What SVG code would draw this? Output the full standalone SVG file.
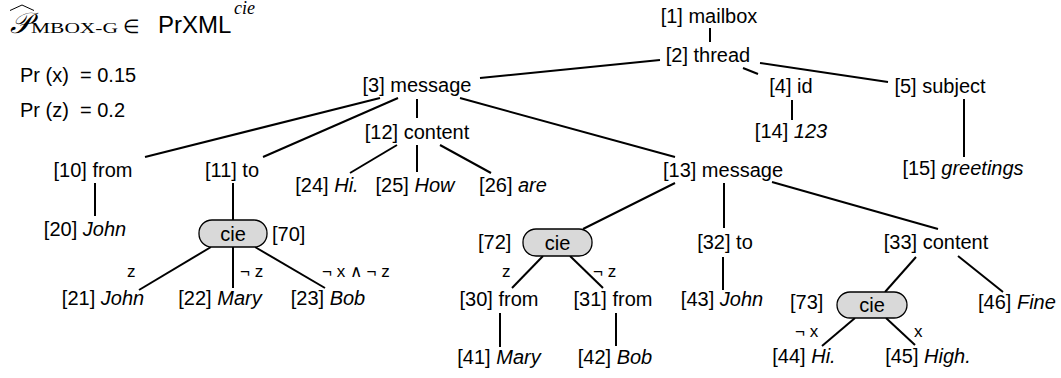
<svg xmlns="http://www.w3.org/2000/svg" width="1061" height="378" viewBox="0 0 1061 378">
<style>
.n{font-family:"Liberation Sans",Arial,sans-serif;font-size:20px;fill:#000;text-anchor:middle}
.s{text-anchor:start}
.i{font-style:italic}
.e{font-family:"Liberation Sans",Arial,sans-serif;font-size:17px;fill:#000}
.c{fill:#d9d9d9;stroke:#000;stroke-width:1.3}
#edges line{stroke:#000;stroke-width:2;stroke-linecap:butt}
</style>
<rect width="1061" height="378" fill="#fff"/>
<g id="title">
<path d="M10,10.5 L22,5 L34,10.5" fill="none" stroke="#000" stroke-width="1"/>
<text x="10" y="33" font-family="DejaVu Serif,'Liberation Serif',serif" font-style="italic" font-size="29">𝒫</text>
<text x="31" y="33" font-family="'Liberation Serif',serif" font-size="14" textLength="87" lengthAdjust="spacingAndGlyphs">MBOX-G</text>
<text x="123" y="33" font-family="'DejaVu Sans',sans-serif" font-size="19">∈</text>
<text x="158" y="33" font-family="'Liberation Sans',Arial,sans-serif" font-size="24">PrXML</text>
<text x="234" y="14" font-family="'Liberation Serif',serif" font-style="italic" font-size="18">cie</text>
</g>
<g id="probs">
<text class="n s" x="20" y="82">Pr (x)</text><text class="n s" x="80" y="82">= 0.15</text>
<text class="n s" x="20" y="117">Pr (z)</text><text class="n s" x="80" y="117">= 0.2</text>
</g>
<g id="edges">
<line x1="710" y1="28" x2="710" y2="42"/>
<line x1="480" y1="78" x2="660" y2="60"/>
<line x1="743" y1="68" x2="758" y2="74"/>
<line x1="760" y1="63" x2="888" y2="82"/>
<line x1="792" y1="100" x2="792" y2="120"/>
<line x1="964" y1="99" x2="964" y2="157"/>
<line x1="145" y1="157" x2="380" y2="98"/>
<line x1="263" y1="157" x2="398" y2="98"/>
<line x1="417" y1="99" x2="417" y2="118"/>
<line x1="460" y1="98" x2="675" y2="157"/>
<line x1="397" y1="145" x2="350" y2="173"/>
<line x1="417" y1="145" x2="417" y2="172"/>
<line x1="440" y1="145" x2="491" y2="173"/>
<line x1="95" y1="183" x2="95" y2="216"/>
<line x1="233" y1="183" x2="233" y2="220"/>
<line x1="211" y1="247" x2="139" y2="290"/>
<line x1="233" y1="247" x2="233" y2="288"/>
<line x1="255" y1="247" x2="325" y2="288"/>
<line x1="675" y1="183" x2="583" y2="229"/>
<line x1="724" y1="183" x2="724" y2="228"/>
<line x1="772" y1="182" x2="938" y2="229"/>
<line x1="543" y1="256" x2="512" y2="288"/>
<line x1="570" y1="256" x2="603" y2="288"/>
<line x1="500" y1="313" x2="500" y2="347"/>
<line x1="616" y1="313" x2="616" y2="346"/>
<line x1="723" y1="257" x2="723" y2="290"/>
<line x1="916" y1="257" x2="885" y2="292"/>
<line x1="958" y1="256" x2="1003" y2="292"/>
<line x1="855" y1="318" x2="822" y2="346"/>
<line x1="886" y1="318" x2="915" y2="345"/>
</g>
<g id="n1"><text class="n" x="709" y="23">[1] mailbox</text></g>
<g id="n2"><text class="n" x="708" y="62">[2] thread</text></g>
<g id="n3"><text class="n" x="417" y="92">[3] message</text></g>
<g id="n4"><text class="n" x="791" y="93">[4] id</text></g>
<g id="n5"><text class="n" x="940" y="93">[5] subject</text></g>
<g id="n14"><text class="n" x="791" y="138">[14] <tspan class="i">123</tspan></text></g>
<g id="n12"><text class="n" x="417" y="139">[12] content</text></g>
<g id="n10"><text class="n" x="93" y="176.5">[10] from</text></g>
<g id="n11"><text class="n" x="232" y="176.5">[11] to</text></g>
<g id="n13"><text class="n" x="723" y="177">[13] message</text></g>
<g id="n15"><text class="n" x="963" y="175">[15] <tspan class="i">greetings</tspan></text></g>
<g id="n24"><text class="n" x="327" y="191.5">[24] <tspan class="i">Hi.</tspan></text></g>
<g id="n25"><text class="n" x="415" y="191.5">[25] <tspan class="i">How</tspan></text></g>
<g id="n26"><text class="n" x="513" y="191.5">[26] <tspan class="i">are</tspan></text></g>
<g id="n20"><text class="n" x="85" y="236">[20] <tspan class="i">John</tspan></text></g>
<g id="n70"><rect class="c" x="199" y="220" width="68" height="27" rx="13"/><text class="n" x="233" y="241">cie</text><text class="n s" x="272" y="241">[70]</text></g>
<g id="n21"><text class="n" x="103" y="305">[21] <tspan class="i">John</tspan></text></g>
<g id="n22"><text class="n" x="220" y="305">[22] <tspan class="i">Mary</tspan></text></g>
<g id="n23"><text class="n" x="328" y="305">[23] <tspan class="i">Bob</tspan></text></g>
<g id="n72"><rect class="c" x="523" y="229" width="69" height="27" rx="13"/><text class="n" x="557.5" y="250">cie</text><text class="n s" x="478" y="249">[72]</text></g>
<g id="n32"><text class="n" x="725" y="249">[32] to</text></g>
<g id="n33"><text class="n" x="936" y="249">[33] content</text></g>
<g id="n30"><text class="n" x="499" y="306">[30] from</text></g>
<g id="n31"><text class="n" x="613" y="306">[31] from</text></g>
<g id="n43"><text class="n" x="722" y="306">[43] <tspan class="i">John</tspan></text></g>
<g id="n73"><rect class="c" x="837" y="292" width="70" height="26" rx="13"/><text class="n" x="872" y="312">cie</text><text class="n s" x="790" y="309">[73]</text></g>
<g id="n46"><text class="n s" x="978" y="309">[46] <tspan class="i">Fine</tspan></text></g>
<g id="n41"><text class="n" x="499" y="364">[41] <tspan class="i">Mary</tspan></text></g>
<g id="n42"><text class="n" x="615" y="364">[42] <tspan class="i">Bob</tspan></text></g>
<g id="n44"><text class="n" x="804" y="363">[44] <tspan class="i">Hi.</tspan></text></g>
<g id="n45"><text class="n" x="928" y="363">[45] <tspan class="i">High.</tspan></text></g>
<g id="edge-labels">
<text class="e" x="127" y="277">z</text>
<text class="e" x="240" y="277">¬ z</text>
<text class="e" x="322" y="277">¬ x ∧ ¬ z</text>
<text class="e" x="502" y="277">z</text>
<text class="e" x="593" y="277">¬ z</text>
<text class="e" x="795" y="337">¬ x</text>
<text class="e" x="914" y="337">x</text>
</g>
</svg>
